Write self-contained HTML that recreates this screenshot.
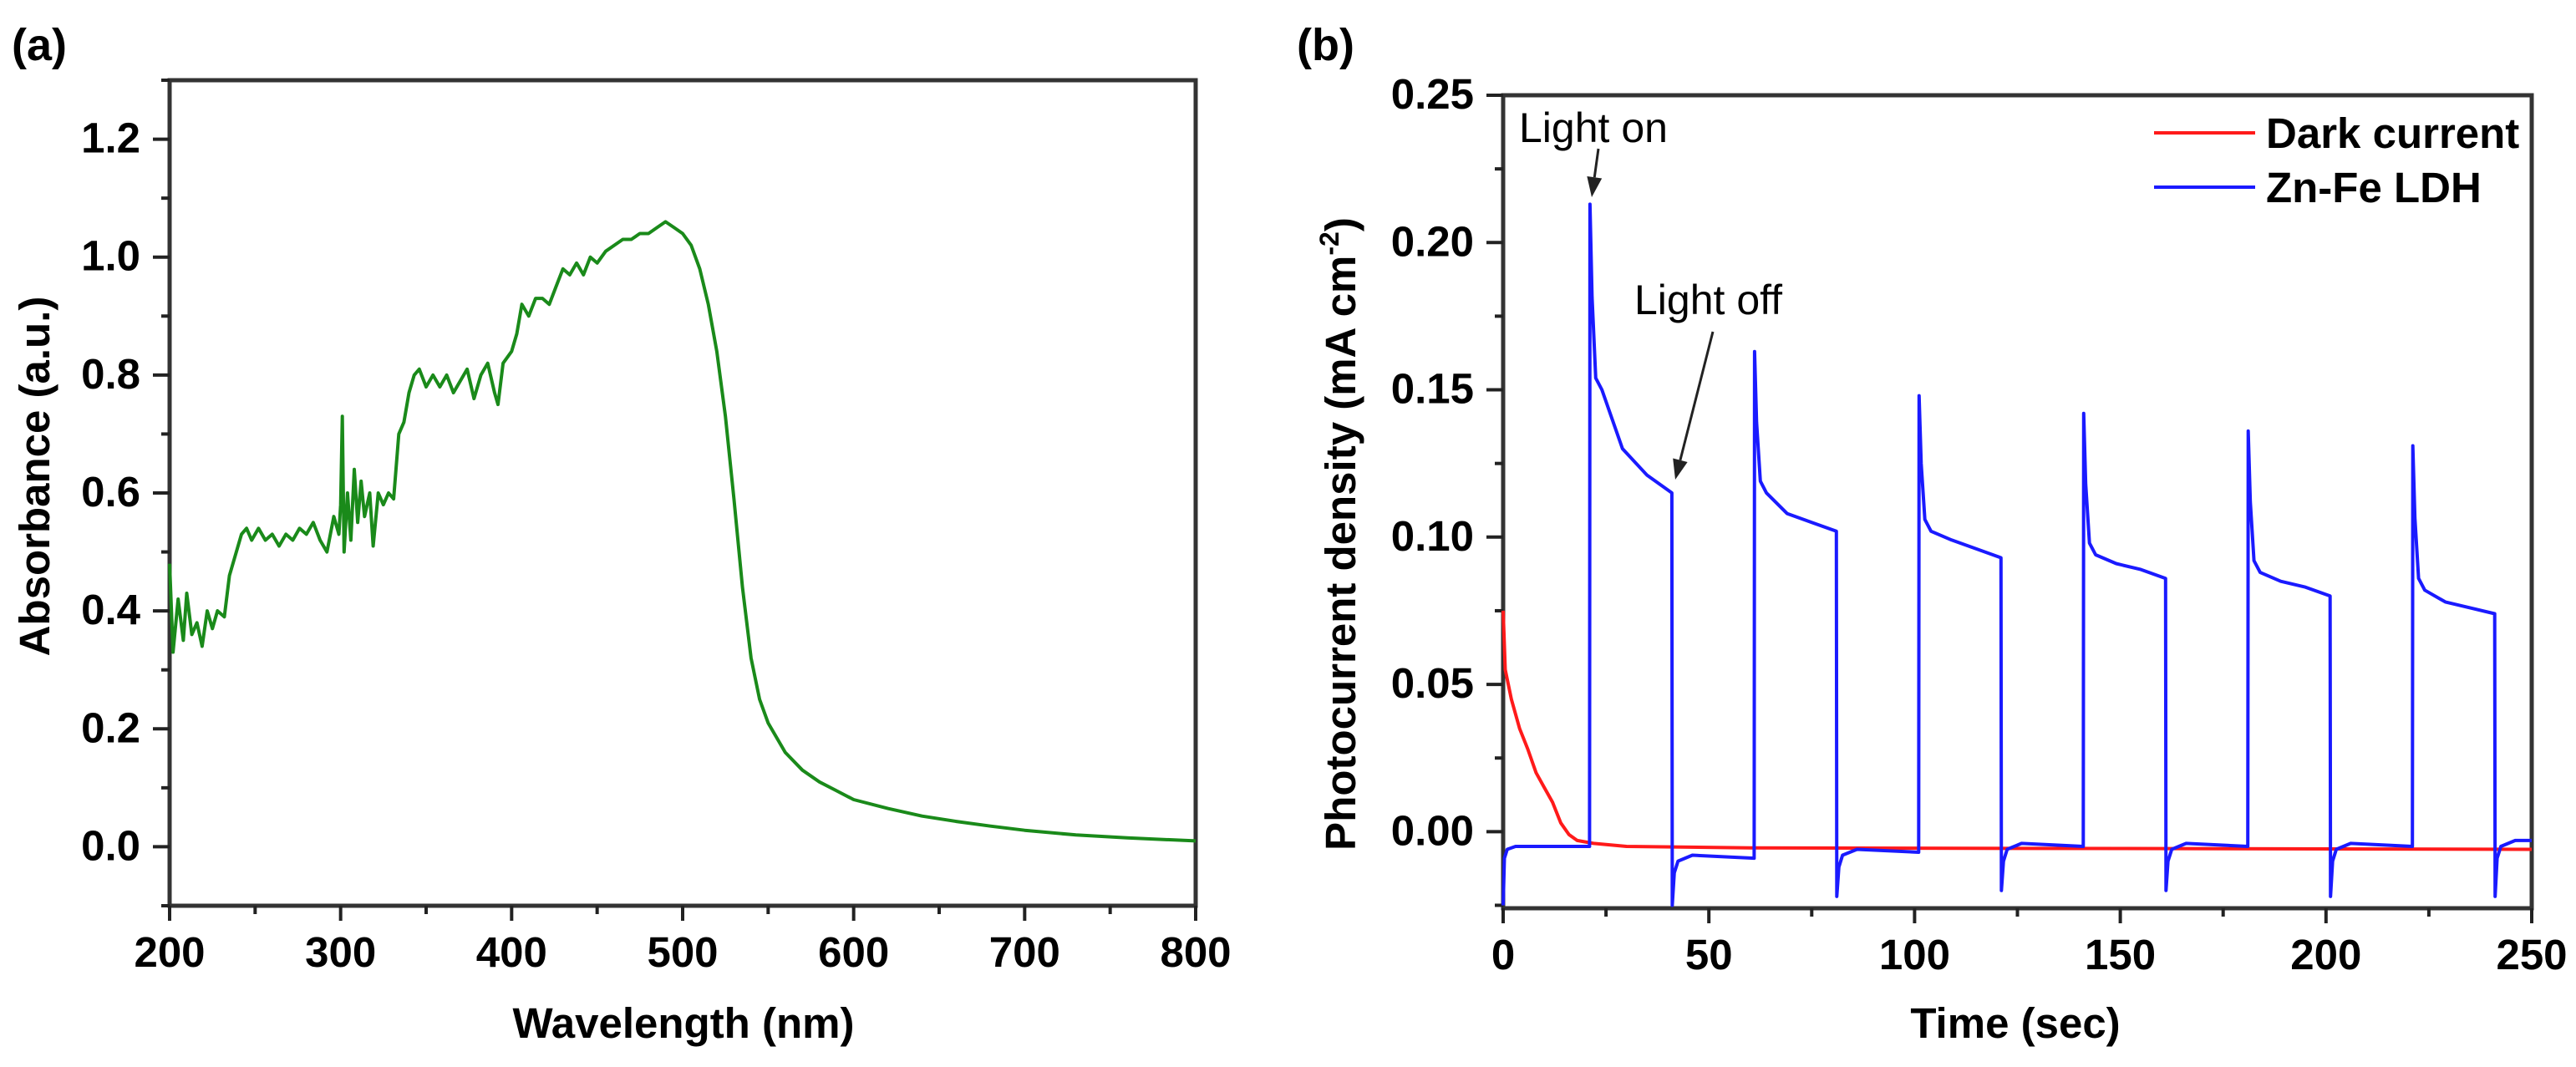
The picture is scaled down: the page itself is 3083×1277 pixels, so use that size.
<!DOCTYPE html>
<html><head><meta charset="utf-8"><style>
html,body{margin:0;padding:0;background:#fff;overflow:hidden}
svg{display:block;font-family:"Liberation Sans",Arial,sans-serif}
</style></head><body>
<svg id="fig" width="3083" height="1277" viewBox="0 0 3083 1277" xmlns="http://www.w3.org/2000/svg">
<text x="14" y="72" font-size="54" font-weight="bold">(a)</text>
<text x="1552" y="72" font-size="54" font-weight="bold">(b)</text>
<g id="pa"></g>
<g id="pb"></g>
</svg>
<script>
// Panel (a) data
const absWl = [200,202,205,208,210,213,216,219,222,225,228,232,235,238,242,245,248,252,256,260,264,268,272,276,280,284,288,292,296,299,300,301,302,304,306,308,310,312,314,317,319,322,325,328,331,334,337,340,343,346,350,354,358,362,366,370,374,378,382,386,390,392,395,400,403,406,410,414,418,422,426,430,434,438,442,446,450,455,460,465,470,475,480,485,490,495,500,505,510,515,520,525,530,535,540,545,550,560,570,580,590,600,620,640,660,680,700,730,760,800];
const absVal = [0.48,0.33,0.42,0.35,0.43,0.36,0.38,0.34,0.40,0.37,0.40,0.39,0.46,0.49,0.53,0.54,0.52,0.54,0.52,0.53,0.51,0.53,0.52,0.54,0.53,0.55,0.52,0.50,0.56,0.53,0.58,0.73,0.50,0.60,0.52,0.64,0.55,0.62,0.56,0.60,0.51,0.60,0.58,0.60,0.59,0.70,0.72,0.77,0.80,0.81,0.78,0.80,0.78,0.80,0.77,0.79,0.81,0.76,0.80,0.82,0.77,0.75,0.82,0.84,0.87,0.92,0.90,0.93,0.93,0.92,0.95,0.98,0.97,0.99,0.97,1.00,0.99,1.01,1.02,1.03,1.03,1.04,1.04,1.05,1.06,1.05,1.04,1.02,0.98,0.92,0.84,0.73,0.59,0.44,0.32,0.25,0.21,0.16,0.13,0.11,0.095,0.08,0.065,0.052,0.043,0.035,0.028,0.02,0.015,0.01];
const aXTicks = [200,300,400,500,600,700,800];
const aYTicks = [0.0,0.2,0.4,0.6,0.8,1.0,1.2];
// Panel (b) data
const darkT = [0,0.5,2,4,6,8,10,12,14,16,18,22,30,60,250];
const darkV = [0.075,0.055,0.045,0.035,0.028,0.02,0.015,0.01,0.003,-0.001,-0.003,-0.004,-0.005,-0.0055,-0.006];
const onT = [21,61,101,141,181,221];
const offT = [41,81,121,161,201,241];
const peakV = [0.213,0.163,0.148,0.142,0.136,0.131];
const kneeV = [0.150,0.115,0.102,0.094,0.088,0.082];
const midV = [0.130,0.108,0.099,0.091,0.085,0.078];
const lateV = [0.121,0.105,0.096,0.089,0.083,0.076];
const endV = [0.115,0.102,0.093,0.086,0.080,0.074];
const offMinV = [-0.025,-0.022,-0.020,-0.020,-0.022,-0.022];
const offBaseV = [-0.008,-0.006,-0.004,-0.004,-0.004,-0.003];
const bXTicks = [0,50,100,150,200,250];
const bYTicks = [0.00,0.05,0.10,0.15,0.20,0.25];
const bYLabels = ["0.00","0.05","0.10","0.15","0.20","0.25"];

const NS="http://www.w3.org/2000/svg";
function mk(tag,attrs,parent){const e=document.createElementNS(NS,tag);for(const k in attrs)e.setAttribute(k,attrs[k]);parent.appendChild(e);return e;}

function axes(g,box,xmin,xmax,ymin,ymax,xt,yt,ylab,xMinorStep,yMinorStep){
  const X=v=>box.l+(v-xmin)/(xmax-xmin)*(box.r-box.l);
  const Y=v=>box.b-(v-ymin)/(ymax-ymin)*(box.b-box.t);
  const fr=mk('rect',{x:box.l,y:box.t,width:box.r-box.l,height:box.b-box.t,fill:'none',stroke:'#333','stroke-width':5},g);
  
  for(let v=xmin;v<=xmax+1e-9;v+=xMinorStep){const major=xt.some(t=>Math.abs(t-v)<1e-9);
    const l=mk('line',{x1:X(v),x2:X(v),y1:box.b,y2:box.b+(major?18:10),stroke:'#222','stroke-width':4},g);
    }
  let s=Math.ceil(ymin/yMinorStep-1e-9);
  for(let v=s*yMinorStep;v<=ymax+1e-9;v+=yMinorStep){const major=yt.some(t=>Math.abs(t-v)<1e-9);
    const l=mk('line',{x1:box.l-(major?20:10),x2:box.l,y1:Y(v),y2:Y(v),stroke:'#222','stroke-width':4},g);
    }
  xt.forEach(v=>{const t=mk('text',{x:X(v),y:box.b+73,'font-size':51,'font-weight':'bold','text-anchor':'middle'},g);t.textContent=String(v);
    });
  yt.forEach((v,i)=>{const t=mk('text',{x:box.l-35,y:Y(v)+16,'font-size':51,'font-weight':'bold','text-anchor':'end'},g);t.textContent=ylab[i];
    });
  return {X,Y};
}
function title(g,txt,x,y,rot,name,sub){
  const t=mk('text',{x,y,'font-size':51,'font-weight':'bold','text-anchor':'middle'},g);
  if(rot)t.setAttribute('transform',`rotate(-90 ${x} ${y})`);
  t.textContent=txt;
  if(sub){const sp=mk('tspan',{'font-size':32,dy:-20},t);sp.textContent=sub;const sp2=mk('tspan',{dy:20},t);sp2.textContent=')';}
  
}
function line(g,xs,ys,X,Y,color,name){
  const d=xs.map((x,i)=>(i?'L':'M')+X(x).toFixed(1)+' '+Y(ys[i]).toFixed(1)).join(' ');
  const p=mk('path',{d,fill:'none',stroke:color,'stroke-width':4,'stroke-linejoin':'round'},g);
  return p;
}
// Panel a
const ga=document.getElementById('pa');
const A=axes(ga,{l:203,r:1431,t:96,b:1084},200,800,-0.1,1.3,aXTicks,aYTicks,aYTicks.map(v=>v.toFixed(1)),50,0.1);
title(ga,'Wavelength (nm)',818,1242,false,'x-axis-title');
title(ga,'Absorbance (a.u.)',59,570,true,'y-axis-title');
line(ga,absWl,absVal,A.X,A.Y,'#1a8a1a','absorbance-line');

// Panel b
const gb=document.getElementById('pb');
const B=axes(gb,{l:1799,r:3030,t:114,b:1087},0,250,-0.026,0.25,bXTicks,bYTicks,bYLabels,25,0.025);
title(gb,'Time (sec)',2412,1242,false,'x-axis-title');
title(gb,'Photocurrent density (mA cm',1622,639,true,'y-axis-title','-2');
const bt=[0,0.3,1,3],bv=[-0.025,-0.009,-0.006,-0.005];
bt.push(onT[0]);bv.push(-0.005);
for(let i=0;i<onT.length;i++){
  const t0=onT[i],t1=offT[i];
  bt.push(t0+0.1,t0+0.6,t0+1.5,t0+3,t0+8,t0+14,t1);
  bv.push(peakV[i],(peakV[i]+kneeV[i])/2,kneeV[i]+0.004,kneeV[i],midV[i],lateV[i],endV[i]);
  bt.push(t1+0.1,t1+0.6,t1+1.5,t1+5);
  bv.push(offMinV[i],offBaseV[i]-0.006,offBaseV[i]-0.002,offBaseV[i]);
  const nxt=i+1<onT.length?onT[i+1]:250;
  bt.push(nxt);bv.push(i+1<onT.length?offBaseV[i]-0.001:offBaseV[i]);
}
line(gb,darkT,darkV,B.X,B.Y,'#ff1a1a','dark-current-line');
line(gb,bt,bv,B.X,B.Y,'#1a1aff','zn-fe-ldh-line');

function ann(txt,x,y,ax1,ay1,ax2,ay2,name){
  const t=mk('text',{x,y,'font-size':50},gb);t.textContent=txt;
  
  const ang=Math.atan2(ay2-ay1,ax2-ax1),L=24,w=9;
  const bx=ax2-L*Math.cos(ang),by=ay2-L*Math.sin(ang);
  const ln=mk('line',{x1:ax1,y1:ay1,x2:bx,y2:by,stroke:'#222','stroke-width':3},gb);
  
  const px=-Math.sin(ang)*w,py=Math.cos(ang)*w;
  const p=mk('polygon',{points:`${ax2},${ay2} ${bx+px},${by+py} ${bx-px},${by-py}`,fill:'#222'},gb);
  
}
ann('Light on',1818,170,1913,178,1905,236,'light-on');
ann('Light off',1956,376,2050,397,2005,574,'light-off');

const lg=mk('g',{},gb);
[['Dark current','#ff1a1a',159],['Zn-Fe LDH','#1a1aff',224]].forEach(([n,c,y])=>{
  const l=mk('line',{x1:2578,x2:2699,y1:y,y2:y,stroke:c,'stroke-width':4},lg);
  
  const t=mk('text',{x:2712,y:y+18,'font-size':51,'font-weight':'bold'},lg);t.textContent=n;
  
});
</script>
</body></html>
